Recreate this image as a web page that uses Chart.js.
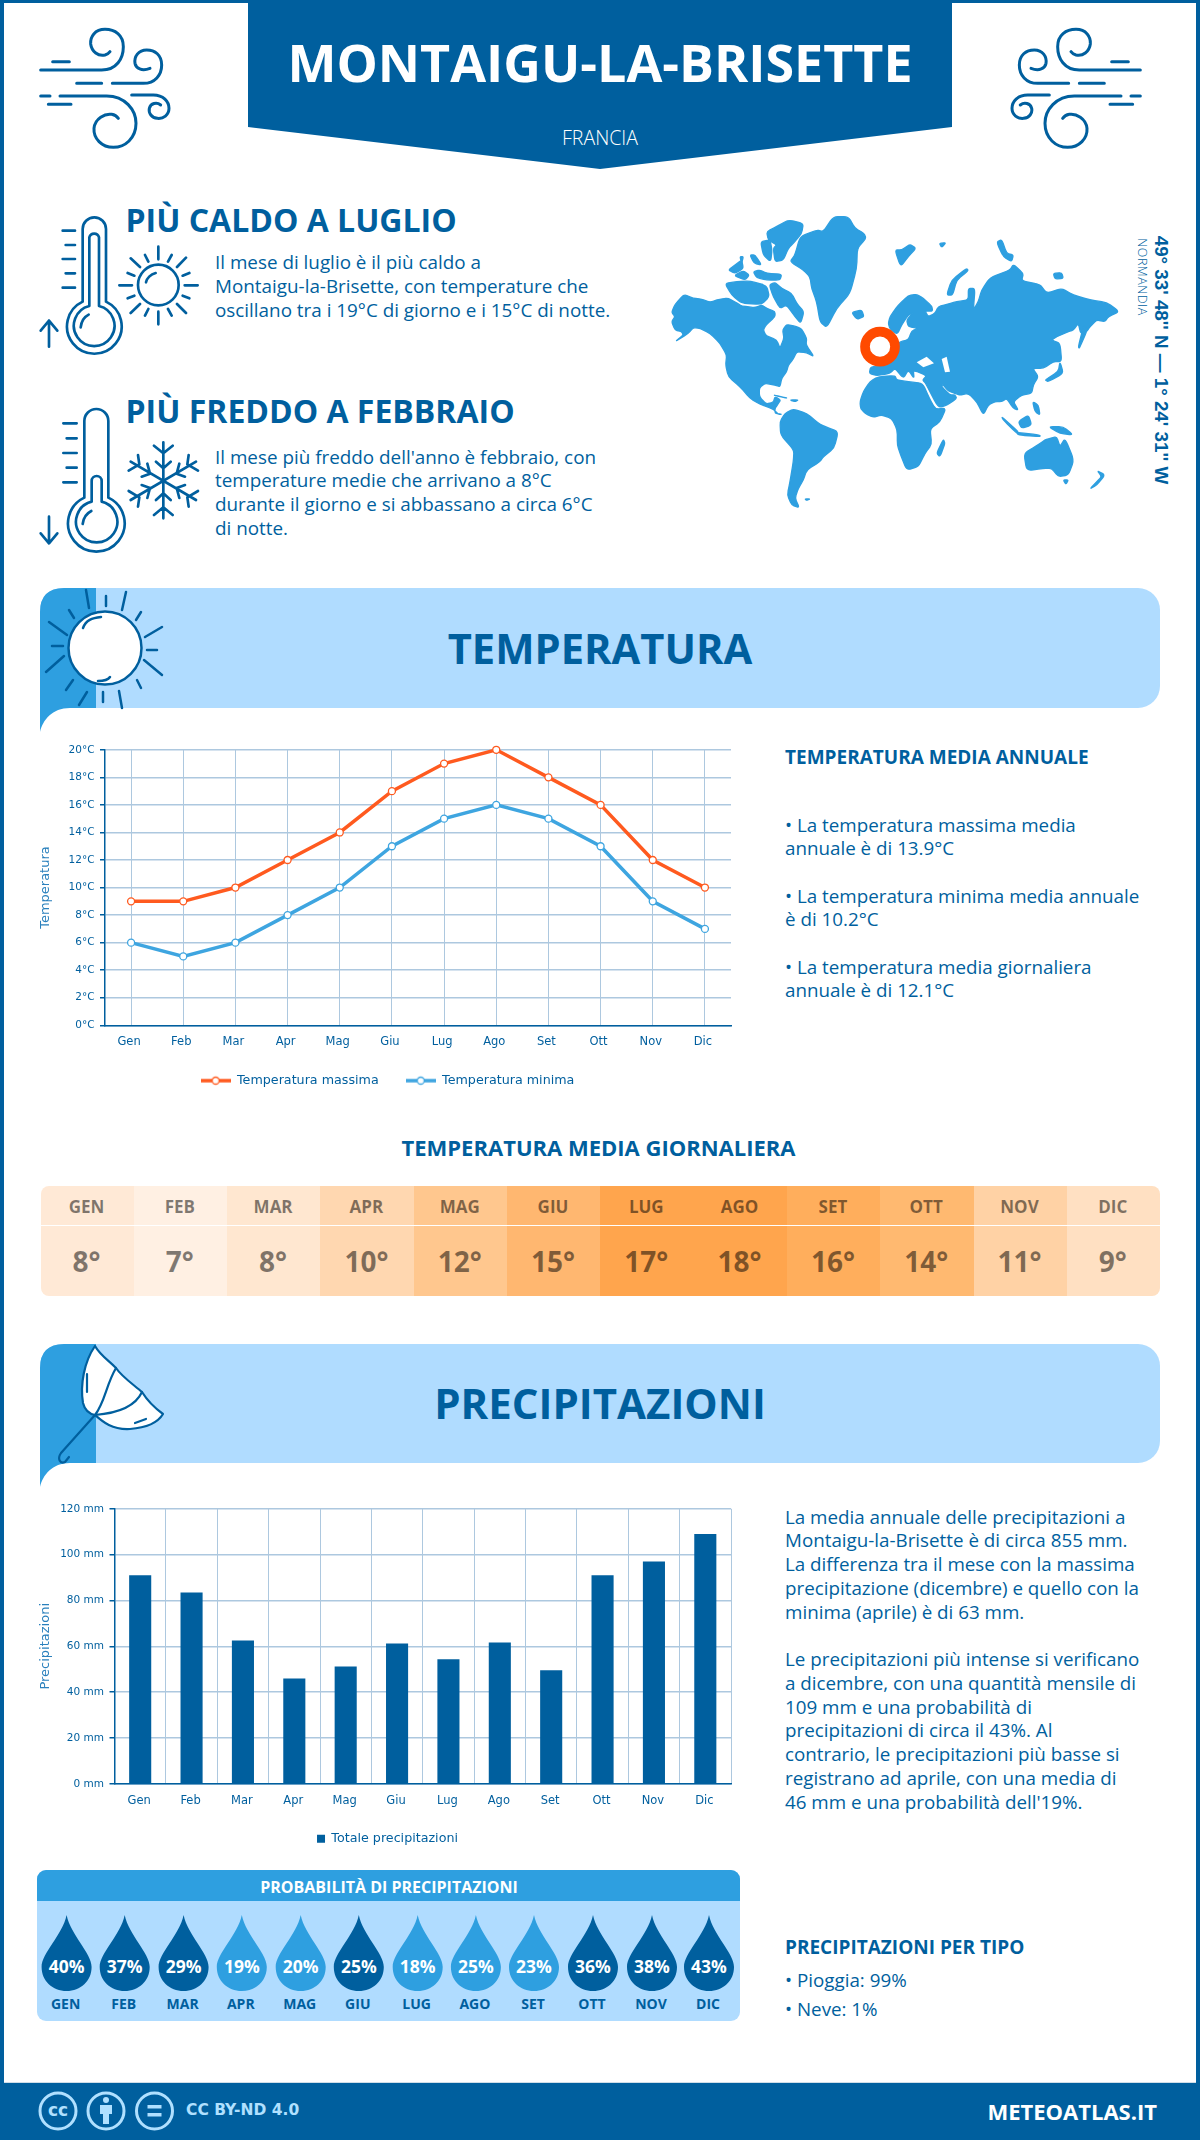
<!DOCTYPE html>
<html lang="it">
<head>
<meta charset="utf-8">
<title>Montaigu-la-Brisette</title>
<script src="https://cdn.jsdelivr.net/npm/chart.js@4"></script>
<style>
html,body{margin:0;padding:0;background:#fff}
#page{position:relative;width:1200px;height:2140px;overflow:hidden;background:#fff;font-family:"Open Sans",sans-serif;color:#005f9e}
.abs{position:absolute}
.t{position:absolute;white-space:nowrap;line-height:1;transform:translateY(-50%)}
.c{transform:translate(-50%,-50%)}
svg{position:absolute;overflow:visible}
.ic{fill:none;stroke:#005f9e;stroke-linecap:round;stroke-linejoin:round}
canvas{position:absolute}
</style>
</head>
<body>
<div id="page">
  <!-- frame -->
  <div class="abs" style="left:0;top:0;width:1192px;height:2140px;border:solid #005f9e;border-width:3.5px 4px 0 4px;box-sizing:content-box"></div>
  <!-- header ribbon -->
  <svg style="left:0;top:0" width="1200" height="180"><path d="M248 0H952V127L600 169L248 127Z" fill="#005f9e"/></svg>
  <!-- wind icons -->
  <svg id="w1" style="left:30px;top:20px" width="150" height="140" viewBox="0 0 450 420"></svg>
  <svg id="w2" style="left:1001px;top:20px;transform:scaleX(-1)" width="150" height="140" viewBox="0 0 450 420"></svg>
  <!-- thermometers, sun, snow -->
  <svg style="left:30px;top:205px" width="180" height="360" viewBox="0 0 540 1080">
    <g class="ic" stroke-width="8">
      <path d="M158 290V72a35 35 0 0 1 70 0V290a82 82 0 1 1-70 0Z"/>
      <path d="M178 303V97a15 15 0 0 1 29 0V303a61 61 0 1 1-29 0Z"/>
      <path d="M152 367C154 350 162 336 176 329"/>
      <path d="M98 77H135M107 120H135M98 162H135M107 205H135M98 248H135"/>
      <path d="M57 425V347M32 377L57 347L82 377"/>
      <circle cx="385" cy="240" r="61"/>
      <path d="M348 232C350 220 362 208 377 204"/>
      <path d="M385 125V163M385 320V358M268 241H306M464 241H503M302 160L330 186M468 158L441 186M302 324L330 297M468 324L441 297M345 150L355 170M425 150L414 170M345 332L355 312M425 332L414 312M293 204L313 212M478 204L458 212M293 280L313 272M478 280L458 272"/>
      <path d="M163 878V648a36 36 0 0 1 72 0V878a85 85 0 1 1-72 0Z"/>
      <path d="M185 890V828a15 15 0 0 1 30 0V890a62 62 0 1 1-30 0Z"/>
      <path d="M158 957C160 940 170 925 184 918"/>
      <path d="M100 655H140M110 700H140M100 744H140M110 788H140M100 832H140"/>
      <path d="M57 935V1015M32 985L57 1015L82 985"/>
      <path d="M400 712V940M372 722L400 745L428 722M372 930L400 907L428 930M378 770L400 790L422 770M378 885L400 865L422 885"/>
      <path d="M302 770L498 885M296 797L328 778L324 750M504 858L472 877L476 905M352 776L360 806L335 815M448 879L440 849L465 840"/>
      <path d="M498 770L302 885M504 797L472 778L476 750M296 858L328 877L324 905M448 776L440 806L465 815M352 879L360 849L335 840"/>
    </g>
  </svg>
  <!-- world map -->
  <svg style="left:660px;top:205px" width="520" height="310" viewBox="0 0 1560 930">
    <g id="map" fill="#2e9fe0" stroke="#2e9fe0" stroke-width="4" stroke-linejoin="round"></g>
    <g fill="#fff"><path d="M770 472L800 455L822 475L790 487Z"/><path d="M845 462L860 455L870 500L855 502Z"/></g>
    <circle cx="660" cy="425" r="45" fill="#fff" stroke="#ff4a00" stroke-width="29"/>
  </svg>
  <!-- temperature banner -->
  <svg style="left:0;top:580px" width="1200" height="160" viewBox="0 580 1200 160">
    <rect x="40" y="588" width="1120" height="120" rx="22" fill="#b0dcff"/>
    <path d="M40 612Q40 588 64 588H96V708H70C52 708 43 720 40 732Z" fill="#2e9fe0"/>
    <g class="ic" stroke-width="2.5">
      <circle cx="105" cy="648" r="36.5" fill="#fff"/>
      <path d="M83 628C86 620 92 618 101 617M98 681C103 681 108 680 110 677"/>
      <path d="M126 592L122 610M106 596V606M141 612L136 620M162 627L145 637M147 650H157M162 675L144 660M137 680L141 688M119 691L122 708M103 692V702M87 692L79 705M73 680L66 690M46 672L64 656M52 646H63M49 622L67 635M69 610L74 618M86 590L89 608"/>
    </g>
  </svg>
  <!-- precipitation banner -->
  <svg style="left:0;top:1336px" width="1200" height="160" viewBox="0 1336 1200 160">
    <rect x="40" y="1344" width="1120" height="119" rx="22" fill="#b0dcff"/>
    <path d="M40 1368Q40 1344 64 1344H96V1463H70C52 1463 43 1475 40 1487Z" fill="#2e9fe0"/>
    <g class="ic" stroke-width="2.2">
      <path d="M95 1346C84 1362 80 1385 83 1403C85 1411 90 1414 95 1415C103 1422 112 1430 130 1429C143 1428 157 1424 163 1414C152 1406 147 1400 142 1392C134 1385 122 1377 116 1368C108 1360 100 1355 95 1346Z" fill="#fff"/>
      <path d="M116 1368C106 1385 105 1402 95 1415M142 1392C136 1405 120 1413 95 1415M95 1415L61 1453C57 1459 60 1464 65 1462L69 1457M87 1374V1392M135 1423L146 1419"/>
    </g>
  </svg>
  <canvas id="tempChart" style="left:30px;top:737.5px;width:720px;height:359px" width="720" height="359"></canvas>
  <canvas id="rainChart" style="left:30px;top:1497px;width:720px;height:358px" width="720" height="358"></canvas>
  <div id="heat" class="abs" style="left:40.5px;top:1186px;width:1119.5px;height:110px;border-radius:8px;overflow:hidden"></div>
  <div class="abs" style="left:37px;top:1870px;width:703px;height:151px;border-radius:9px;background:#b0dcff;overflow:hidden">
    <div class="abs" style="left:0;top:0;width:703px;height:31px;background:#2e9fe0"></div>
  </div>
  <svg id="drops" style="left:0;top:1900px" width="760" height="110" viewBox="0 1900 760 110"></svg>
  <!-- footer -->
  <div class="abs" style="left:4px;top:2082px;width:1192px;height:1.5px;background:#cfdde8"></div>
  <div class="abs" style="left:0;top:2083px;width:1200px;height:57px;background:#005f9e"></div>
  <svg style="left:0;top:2083px" width="330" height="57" viewBox="0 2083 330 57">
    <g fill="none" stroke="#b0e0ff" stroke-width="3">
      <ellipse cx="58" cy="2111" rx="18" ry="18"/><ellipse cx="106" cy="2111" rx="18" ry="18"/><ellipse cx="154.500" cy="2111" rx="18" ry="18"/>
    </g>
    <g fill="#b0e0ff">
      <circle cx="106" cy="2100" r="3"/><path d="M100 2105H112V2114H109V2124H103V2114H100Z"/>
      <rect x="147.500" y="2105" width="14" height="3.500"/><rect x="147.500" y="2113" width="14" height="3.500"/>
    </g>
  </svg>
  <div id="texts"></div>
</div>
<script>
/* ---------- data ---------- */
const months = ['Gen','Feb','Mar','Apr','Mag','Giu','Lug','Ago','Set','Ott','Nov','Dic'];
const monthsUpper = ['GEN','FEB','MAR','APR','MAG','GIU','LUG','AGO','SET','OTT','NOV','DIC'];
const tempMax = [9,9,10,12,14,17,19,20,18,16,12,10];
const tempMin = [6,5,6,8,10,13,15,16,15,13,9,7];
const tempMean = [8,7,8,10,12,15,17,18,16,14,11,9];
const rainTotal = [91,83.5,62.5,46,51.2,61.2,54.3,61.7,49.5,91,97,109];
const rainChance = [40,37,29,19,20,25,18,25,23,36,38,43];
const rainChanceDark = [1,1,1,0,0,1,0,0,0,1,1,1];
const heatColors = ['#ffe9d6','#fff0e3','#ffe7d0','#ffd7b0','#ffc78e','#ffb770','#ffa54d','#ffa54d','#ffae5c','#ffb970','#ffd2a5','#ffe0c2'];

const BLUE='#005f9e', MID='#2e9fe0', LINE2='#3ea5e0', ORANGE='#ff5a1f', GRID='#adc8df', TICKF='"DejaVu Sans",sans-serif';

/* ---------- static text ---------- */
const texts = document.getElementById('texts');
function T(s,x,y,size,weight,color,opt){
  const e=document.createElement('div');
  e.className='t'+(opt&&opt.center?' c':'');
  e.textContent=s;
  e.style.cssText+=`left:${x}px;top:${y}px;font-size:${size}px;font-weight:${weight};color:${color||BLUE};`+((opt&&opt.css)||'');
  (opt&&opt.parent||texts).appendChild(e);
  return e;
}
T('MONTAIGU-LA-BRISETTE',600,62,52,700,'#fff',{center:1});
T('FRANCIA',600,138,19.5,300,'#fff',{center:1});
T('PIÙ CALDO A LUGLIO',125.5,220,32,700);
T('PIÙ FREDDO A FEBBRAIO',125.5,410.5,32,700);
[['Il mese di luglio è il più caldo a',262],['Montaigu-la-Brisette, con temperature che',285.5],['oscillano tra i 19°C di giorno e i 15°C di notte.',309.5],
 ["Il mese più freddo dell'anno è febbraio, con",456.5],['temperature medie che arrivano a 8°C',480],['durante il giorno e si abbassano a circa 6°C',503.5],['di notte.',527.5]]
 .forEach(l=>T(l[0],215,l[1],18.85,400));
T("49° 33' 48'' N — 1° 24' 31'' W",1161,360,18.8,700,BLUE,{center:1,css:"font-family:'Liberation Sans',sans-serif;transform:translate(-50%,-50%) rotate(90deg);"});
T('NORMANDIA',1141.5,277,12.5,300,BLUE,{center:1,css:"transform:translate(-50%,-50%) rotate(90deg);letter-spacing:.5px;"});
T('TEMPERATURA',600,648,41.7,700,BLUE,{center:1});
T('PRECIPITAZIONI',600,1403,42,700,BLUE,{center:1});
T('TEMPERATURA MEDIA ANNUALE',785,757,19,700);
[['• La temperatura massima media',825],['annuale è di 13.9°C',848],['• La temperatura minima media annuale',896],['è di 10.2°C',919],['• La temperatura media giornaliera',967],['annuale è di 12.1°C',990]]
 .forEach(l=>T(l[0],785,l[1],18.8,400));
T('TEMPERATURA MEDIA GIORNALIERA',598.5,1147,22,700,BLUE,{center:1});
[['La media annuale delle precipitazioni a',1517],['Montaigu-la-Brisette è di circa 855 mm.',1540],['La differenza tra il mese con la massima',1564],['precipitazione (dicembre) e quello con la',1588],['minima (aprile) è di 63 mm.',1612],
 ['Le precipitazioni più intense si verificano',1659],['a dicembre, con una quantità mensile di',1683],['109 mm e una probabilità di',1707],['precipitazioni di circa il 43%. Al',1730],['contrario, le precipitazioni più basse si',1754],['registrano ad aprile, con una media di',1778],["46 mm e una probabilità dell'19%.",1802]]
 .forEach(l=>T(l[0],785,l[1],18.8,400));
T('PROBABILITÀ DI PRECIPITAZIONI',389,1887,16,700,'#fff',{center:1});
T('PRECIPITAZIONI PER TIPO',785,1947,19,700);
T('• Pioggia: 99%',785,1980,18.8,400);
T('• Neve: 1%',785,2009,18.8,400);
T('cc',58,2110,17,700,'#b0e0ff',{center:1,css:"font-family:'DejaVu Sans',sans-serif;"});
T('CC BY-ND 4.0',186,2111,15.5,700,'#b0e0ff',{css:"font-family:'DejaVu Sans',sans-serif;"});
T('METEOATLAS.IT',1157,2111,22,700,'#fff',{css:'transform:translate(-100%,-50%);'});

/* ---------- wind icons ---------- */
const windPaths = `<g class="ic" stroke-width="9">
<path d="M32 150H215C260 150 280 115 280 80C280 45 255 28 225 28C195 28 180 50 182 72C185 95 205 110 225 105Q235 102 240 95"/>
<path d="M68 125H118M140 190H215"/>
<path d="M247 190H340C375 190 395 165 395 135C395 105 375 90 350 90C325 90 312 110 315 130C318 145 335 155 360 145"/>
<path d="M32 228H60M55 253H123"/>
<path d="M90 228H230C285 228 318 270 318 310C318 355 285 382 250 382C215 382 190 355 192 325C195 295 225 280 245 283Q258 285 265 295"/>
<path d="M305 225H370C400 225 417 245 417 265C417 285 400 297 382 295C365 293 355 280 358 265C362 250 380 245 392 255"/></g>`;
document.getElementById('w1').innerHTML=windPaths;
document.getElementById('w2').innerHTML=windPaths;

/* ---------- map ---------- */
const land = [
"35,322 45,298 72,268 100,280 125,282 150,292 180,282 205,280 232,295 245,303 285,308 305,300 320,310 345,320 345,335 318,360 310,375 318,392 350,405 360,430 372,400 368,375 380,358 410,365 425,372 440,400 438,420 462,455 440,443 410,440 400,462 385,480 380,500 365,520 360,545 345,540 315,535 298,548 298,575 318,597 340,592 345,575 362,585 352,600 345,610 345,625 365,628 355,628 340,612 300,598 270,580 240,545 205,515 197,480 200,450 180,415 150,385 120,370 100,368 85,385 45,410 70,390 65,380 45,375 35,350 45,335",
"320,80 350,65 385,45 430,55 425,85 400,115 385,130 370,165 345,170 340,130 350,120 325,105",
"302,110 330,105 336,135 332,170 310,150",
"328,240 345,232 365,250 395,265 410,295 432,320 422,355 405,335 380,300 360,310 340,275",
"205,195 225,180 245,165 250,190 225,205",
"222,212 250,197 268,210 255,225",
"195,235 230,230 270,228 320,242 328,275 305,298 245,295 215,270",
"280,200 300,195 320,205 365,208 360,225 320,225 290,218",
"270,150 285,150 305,180 282,175",
"240,155 250,155 245,175",
"390,170 405,150 420,95 470,75 490,80 520,35 565,35 585,70 612,85 618,100 592,130 590,190 570,265 530,310 500,368 480,350 470,290 455,250 450,215 430,195",
"575,322 605,315 612,335 590,343",
"705,135 725,135 750,118 768,130 745,155 722,185",
"860,270 875,225 920,190 925,197 890,225 878,270",
"838,115 858,113 845,127",
"1010,112 1025,103 1040,145 1060,150 1055,170 1030,155",
"1180,205 1205,203 1210,220 1185,222",
"685,355 690,335 715,300 745,272 770,268 790,280 815,303 818,318 795,318 805,335 825,325 835,305 860,298 890,290 925,285 925,250 945,250 940,315 955,290 965,255 990,218 1050,195 1060,178 1090,205 1085,228 1140,238 1160,265 1205,250 1240,270 1290,285 1340,292 1378,320 1345,335 1335,350 1310,345 1290,365 1280,380 1262,385 1255,355 1240,375 1225,380 1190,395 1175,405 1200,415 1205,470 1180,470 1150,490 1118,490 1135,515 1120,540 1115,565 1085,570 1060,590 1075,615 1060,610 1040,580 1025,590 1005,590 985,600 970,630 950,590 925,565 900,570 885,565 865,558 848,538 845,545 870,570 885,570 890,580 862,600 835,608 797,535 788,525 800,512 760,495 762,520 745,495 730,520 705,490 690,505 650,512 628,505 632,485 690,480 700,430 720,410 745,405 755,378 775,370 745,365 740,345 760,322 745,330 725,360 712,388 690,372",
"600,590 610,560 630,530 655,515 705,512 710,525 745,530 788,535 808,580 826,612 858,610 840,650 810,672 815,718 795,745 775,785 740,795 722,750 712,720 712,675 695,640 665,630 640,637 615,625 602,610",
"830,745 850,703 855,715 840,755",
"360,650 375,625 400,612 440,625 475,655 495,665 535,680 522,730 490,755 480,770 440,795 430,825 415,850 405,880 418,908 395,900 382,870 390,830 400,770 402,735 362,690",
"1092,745 1130,722 1155,705 1170,700 1190,695 1200,725 1215,700 1242,765 1225,810 1195,815 1175,790 1150,790 1100,797",
"1290,852 1310,840 1335,810 1312,797 1325,815 1310,830",
"1210,825 1225,825 1218,838",
"1255,425 1272,358 1282,375 1258,430",
"1155,525 1195,500 1200,470 1210,505 1165,530",
"1025,635 1075,680 1070,685 1030,645",
"1070,682 1140,690 1140,695 1075,690",
"1075,650 1105,630 1115,660 1085,670",
"1165,665 1210,665 1240,690 1200,685",
"1118,590 1135,600 1140,630 1125,620",
"340,570 385,580 355,574",
"390,585 415,585 405,590",
"435,882 450,882 440,886"
];
function roundedPath(str){
  const p=str.split(' ').map(s=>s.split(',').map(Number)), n=p.length, k=.3;
  let d='';
  p.forEach((v,i)=>{
    const a=p[(i+n-1)%n], b=p[(i+1)%n];
    const s=[v[0]+(a[0]-v[0])*k,v[1]+(a[1]-v[1])*k], e=[v[0]+(b[0]-v[0])*k,v[1]+(b[1]-v[1])*k];
    d+=(i?'L':'M')+s[0].toFixed(1)+' '+s[1].toFixed(1)+'Q'+v[0]+' '+v[1]+' '+e[0].toFixed(1)+' '+e[1].toFixed(1);
  });
  return d+'Z';
}
document.getElementById('map').innerHTML=land.map(p=>`<path d="${roundedPath(p)}"/>`).join('');

/* ---------- heat table ---------- */
const heat=document.getElementById('heat');
months.forEach((m,i)=>{
  const cell=document.createElement('div');
  cell.className='abs';
  cell.style.cssText=`left:${i*93.3}px;top:0;width:93.4px;height:110px;background:${heatColors[i]}`;
  heat.appendChild(cell);
  T(monthsUpper[i],46,20,17,700,'rgba(0,0,0,.5)',{center:1,parent:cell});
  T(tempMean[i]+'°',46,75,28,700,'rgba(0,0,0,.5)',{center:1,parent:cell});
});
const sep=document.createElement('div');
sep.className='abs';sep.style.cssText='left:0;top:38.5px;width:100%;height:1.5px;background:#fff';
heat.appendChild(sep);

/* ---------- drops ---------- */
const dropX=[66.6,124.7,183.6,241.8,300.7,358.8,417.7,475.9,534,593,652,709];
document.getElementById('drops').innerHTML=dropX.map((x,i)=>
 `<path transform="translate(${x-25} 1915)" d="M25 0C29 20 50 38 50 52C50 66 39 76 25 76C11 76 0 66 0 52C0 38 21 20 25 0Z" fill="${rainChanceDark[i]?BLUE:MID}"/>`).join('');
rainChance.forEach((v,i)=>{
  T(v+'%',dropX[i],1967,17.5,700,'#fff',{center:1});
  T(monthsUpper[i],dropX[i]-1,2004,14,700,BLUE,{center:1});
});

/* ---------- charts ---------- */
function legendMark(color){
  const c=document.createElement('canvas');c.width=30;c.height=12;
  const g=c.getContext('2d');
  g.strokeStyle=color;g.lineWidth=3.5;g.beginPath();g.moveTo(0,6);g.lineTo(30,6);g.stroke();
  g.fillStyle='#fff';g.lineWidth=1.3;g.beginPath();g.arc(15,6,3.5,0,Math.PI*2);g.fill();g.stroke();
  return c;
}
function yAxis(width,max,step,unit,title){
  return {min:0,max:max,
    afterFit(s){s.width=width;},
    ticks:{stepSize:step,color:BLUE,font:{family:TICKF,size:10.5},padding:5.5,callback:v=>v+unit},
    grid:{color:GRID,lineWidth:1.5,tickLength:5,tickColor:BLUE},
    border:{color:BLUE,width:1.5},
    title:{display:true,text:title,color:'#2a80bd',font:{family:TICKF,size:13},padding:{top:-6,bottom:10}}};
}
function xAxis(height,grid,labelOffset){
  return {afterFit(s){s.height=height;},
    offset:true,
    ticks:{color:BLUE,font:{family:TICKF,size:11.5},padding:10,labelOffset:labelOffset,maxRotation:0,autoSkip:false},
    grid:Object.assign({color:GRID,lineWidth:1,drawTicks:false},grid),
    border:{color:BLUE,width:1.5}};
}
Chart.defaults.animation=false;
Chart.defaults.devicePixelRatio=1;
new Chart(document.getElementById('tempChart'),{
  type:'line',
  data:{labels:months,datasets:[
    {label:'Temperatura massima',data:tempMax,borderColor:ORANGE,borderWidth:3.5,backgroundColor:'#fff',pointBackgroundColor:'#fff',pointBorderColor:ORANGE,pointBorderWidth:1.3,pointRadius:3.5,tension:0,mark:legendMark(ORANGE)},
    {label:'Temperatura minima',data:tempMin,borderColor:LINE2,borderWidth:3.5,backgroundColor:'#fff',pointBackgroundColor:'#fff',pointBorderColor:LINE2,pointBorderWidth:1.3,pointRadius:3.5,tension:0,mark:legendMark(LINE2)}
  ]},
  options:{responsive:false,clip:false,
    layout:{padding:{left:14,right:19,top:10,bottom:0}},
    scales:{x:xAxis(30,{offset:false},-2),y:yAxis(61,20,2,'°C','Temperatura')},
    plugins:{tooltip:{enabled:false},
      legend:{position:'bottom',
        labels:{usePointStyle:true,pointStyleWidth:30,boxHeight:12,color:BLUE,font:{family:TICKF,size:12.7},padding:19,
          generateLabels(ch){return ch.data.datasets.map((d,i)=>({text:d.label+(i?'':'\u00a0\u00a0'),fontColor:BLUE,pointStyle:d.mark,strokeStyle:d.borderColor,fillStyle:'#fff',lineWidth:0,datasetIndex:i}));}}}}
  }
});
new Chart(document.getElementById('rainChart'),{
  type:'bar',
  data:{labels:months,datasets:[
    {label:'Totale precipitazioni',data:rainTotal,backgroundColor:BLUE,barPercentage:.43,categoryPercentage:1}
  ]},
  options:{responsive:false,
    layout:{padding:{left:14,right:19,top:9.3,bottom:0}},
    scales:{x:xAxis(38.5,{},-1),y:yAxis(70.5,120,20,' mm','Precipitazioni')},
    plugins:{tooltip:{enabled:false},
      legend:{position:'bottom',
        labels:{boxWidth:8,boxHeight:8,color:BLUE,font:{family:TICKF,size:12.7},padding:10}}}
  }
});
</script>
</body>
</html>
